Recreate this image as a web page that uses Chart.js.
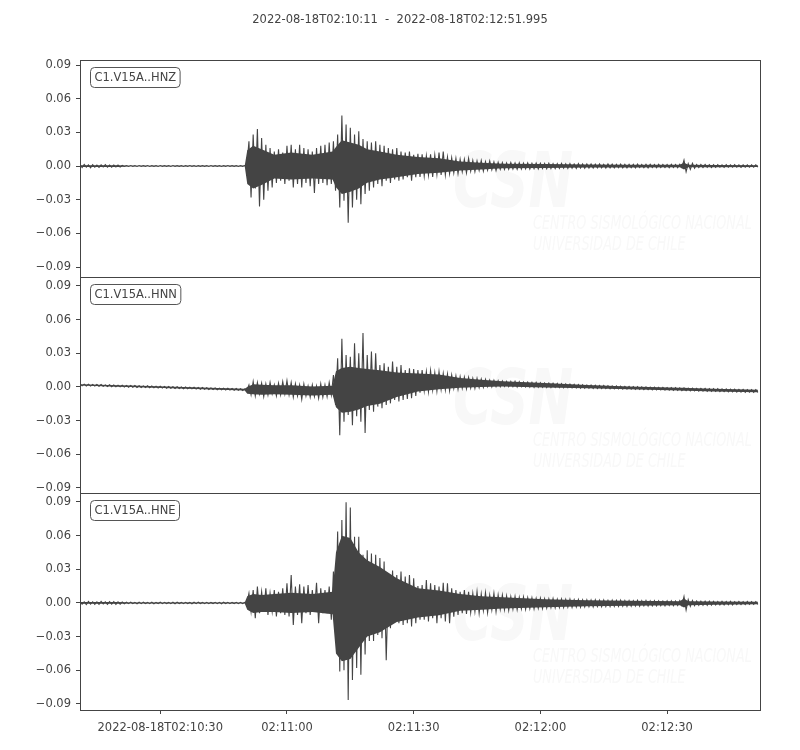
<!DOCTYPE html>
<html>
<head>
<meta charset="utf-8">
<script src="https://cdn.jsdelivr.net/npm/chart.js@4.4.1/dist/chart.umd.min.js"></script>
<style>
  html, body { margin: 0; padding: 0; background: #fff; }
  #wrap { position: relative; width: 800px; height: 750px; }
</style>
</head>
<body>
<div id="wrap"><canvas id="seis" width="800" height="750"></canvas></div>
<script>
// start of the record: 2022-08-18T02:10:11, length 160.995 s
const startLabel = '2022-08-18T02:10:11';
const endLabel = '2022-08-18T02:12:51.995';
const duration = 160.995;
const channels = ['C1.V15A..HNZ', 'C1.V15A..HNN', 'C1.V15A..HNE'];
const xTickSeconds = [19, 49, 79, 109, 139];
const yTicks = [-0.09, -0.06, -0.03, 0, 0.03, 0.06, 0.09];

// peak swings, one value per second (t = 0..160)
const hnzUpper = [
  0.0012, 0.0015, 0.0010, 0.0013, 0.0009, 0.0011, 0.0012, 0.0008, 0.0010, 0.0009,
  0.0005, 0.0004, 0.0004, 0.0003, 0.0004, 0.0003, 0.0004, 0.0003, 0.0003, 0.0004,
  0.0003, 0.0003, 0.0004, 0.0003, 0.0003, 0.0003, 0.0004, 0.0003, 0.0003, 0.0003,
  0.0003, 0.0004, 0.0003, 0.0003, 0.0003, 0.0004, 0.0003, 0.0003, 0.0003, 0.0004,
  0.022, 0.028, 0.033, 0.025, 0.019, 0.016, 0.013, 0.015, 0.012, 0.018,
  0.019, 0.015, 0.019, 0.016, 0.015, 0.013, 0.016, 0.018, 0.019, 0.021,
  0.022, 0.028, 0.045, 0.037, 0.034, 0.028, 0.031, 0.024, 0.022, 0.021,
  0.022, 0.019, 0.018, 0.016, 0.015, 0.016, 0.013, 0.012, 0.013, 0.010,
  0.011, 0.0104, 0.009, 0.0104, 0.0098, 0.012, 0.013, 0.008, 0.0074, 0.0068,
  0.006, 0.006, 0.0068, 0.005, 0.0045, 0.005, 0.004, 0.0045, 0.0036, 0.0033,
  0.0030, 0.0028, 0.0031, 0.0027, 0.0029, 0.0026, 0.0028, 0.0025, 0.0027, 0.0024,
  0.0023, 0.0025, 0.0022, 0.0021, 0.0023, 0.0020, 0.0022, 0.0019, 0.0021, 0.0018,
  0.0019, 0.0018, 0.0017, 0.0019, 0.0016, 0.0018, 0.0017, 0.0016, 0.0018, 0.0015,
  0.0016, 0.0015, 0.0017, 0.0014, 0.0015, 0.0016, 0.0014, 0.0015, 0.0013, 0.0014,
  0.0015, 0.0014, 0.0016, 0.0052, 0.0022, 0.0025, 0.0014, 0.0013, 0.0014, 0.0012,
  0.0013, 0.0012, 0.0011, 0.0012, 0.0011, 0.0012, 0.0010, 0.0011, 0.0010, 0.0011,
  0.0010
];
const hnzLower = [
  -0.0013, -0.0010, -0.0015, -0.0011, -0.0012, -0.0009, -0.0011, -0.0010, -0.0008, -0.0009,
  -0.0004, -0.0004, -0.0003, -0.0004, -0.0003, -0.0003, -0.0004, -0.0003, -0.0004, -0.0003,
  -0.0003, -0.0004, -0.0003, -0.0003, -0.0004, -0.0003, -0.0003, -0.0004, -0.0003, -0.0003,
  -0.0004, -0.0003, -0.0003, -0.0004, -0.0003, -0.0003, -0.0003, -0.0004, -0.0003, -0.0003,
  -0.028, -0.020, -0.036, -0.030, -0.022, -0.019, -0.015, -0.013, -0.016, -0.013,
  -0.019, -0.016, -0.019, -0.015, -0.018, -0.024, -0.016, -0.015, -0.017, -0.016,
  -0.022, -0.037, -0.031, -0.0505, -0.037, -0.030, -0.034, -0.025, -0.022, -0.019,
  -0.016, -0.018, -0.013, -0.015, -0.012, -0.013, -0.012, -0.010, -0.013, -0.010,
  -0.0098, -0.009, -0.008, -0.0098, -0.0074, -0.008, -0.008, -0.0068, -0.006, -0.0068,
  -0.005, -0.006, -0.0045, -0.005, -0.0039, -0.0045, -0.0036, -0.0033, -0.0039, -0.0030,
  -0.0030, -0.0028, -0.0026, -0.0029, -0.0027, -0.0025, -0.0027, -0.0024, -0.0026, -0.0023,
  -0.0024, -0.0022, -0.0023, -0.0021, -0.0020, -0.0022, -0.0019, -0.0021, -0.0018, -0.0019,
  -0.0018, -0.0019, -0.0017, -0.0016, -0.0018, -0.0016, -0.0017, -0.0015, -0.0016, -0.0017,
  -0.0015, -0.0016, -0.0014, -0.0015, -0.0016, -0.0014, -0.0015, -0.0013, -0.0014, -0.0015,
  -0.0014, -0.0015, -0.0013, -0.0050, -0.0030, -0.0020, -0.0014, -0.0013, -0.0012, -0.0013,
  -0.0012, -0.0011, -0.0012, -0.0011, -0.0010, -0.0011, -0.0012, -0.0010, -0.0011, -0.0010,
  -0.0010
];

const hnnUpper = [
  0.0026, 0.0025, 0.0025, 0.0023, 0.0022, 0.0022, 0.0019, 0.0019, 0.0017, 0.0016,
  0.0016, 0.0014, 0.0013, 0.0013, 0.0011, 0.0010, 0.0010, 0.0008, 0.0007, 0.0007,
  0.0005, 0.0004, 0.0002, 0.0002, 0.0000, 0.0000, -0.0002, -0.0002, -0.0004, -0.0005,
  -0.0006, -0.0008, -0.0008, -0.0010, -0.0011, -0.0011, -0.0013, -0.0014, -0.0015, -0.0017,
  0.0018, 0.0048, 0.0040, 0.0033, 0.0027, 0.0040, 0.0018, 0.0033, 0.0048, 0.0056,
  0.0039, 0.0027, 0.0018, 0.0027, 0.0009, 0.0018, 0.0009, 0.0027, 0.0018, 0.0040,
  0.0107, 0.0255, 0.043, 0.0285, 0.027, 0.039, 0.030, 0.048, 0.0285, 0.0315,
  0.030, 0.0196, 0.021, 0.018, 0.0226, 0.018, 0.0196, 0.015, 0.0166, 0.016,
  0.015, 0.015, 0.0137, 0.0146, 0.0128, 0.0137, 0.012, 0.0116, 0.0107, 0.0098,
  0.0092, 0.0086, 0.0086, 0.0077, 0.0077, 0.0071, 0.0068, 0.0062, 0.0059, 0.0056,
  0.0053, 0.0050, 0.0049, 0.0050, 0.0047, 0.0044, 0.0043, 0.0041, 0.0040, 0.0038,
  0.0036, 0.0035, 0.0033, 0.0031, 0.0030, 0.0028, 0.0026, 0.0024, 0.0022, 0.0020,
  0.0018, 0.0017, 0.0016, 0.0014, 0.0013, 0.0011, 0.0010, 0.0009, 0.0007, 0.0006,
  0.0005, 0.0003, 0.0002, 0.0001, 0.0000, -0.0001, -0.0002, -0.0003, -0.0004, -0.0005,
  -0.0006, -0.0007, -0.0008, -0.0009, -0.0010, -0.0011, -0.0012, -0.0013, -0.0013, -0.0014,
  -0.0015, -0.0016, -0.0017, -0.0018, -0.0019, -0.0020, -0.0021, -0.0022, -0.0023, -0.0024,
  -0.0024
];
const hnnLower = [
  0.0010, 0.0009, 0.0008, 0.0008, 0.0006, 0.0005, 0.0004, 0.0002, 0.0001, 0.0001,
  -0.0001, -0.0002, -0.0002, -0.0004, -0.0005, -0.0005, -0.0007, -0.0008, -0.0009, -0.0010,
  -0.0011, -0.0012, -0.0014, -0.0014, -0.0016, -0.0017, -0.0017, -0.0019, -0.0020, -0.0021,
  -0.0022, -0.0023, -0.0025, -0.0025, -0.0027, -0.0028, -0.0029, -0.0030, -0.0031, -0.0033,
  -0.0070, -0.0080, -0.0062, -0.0086, -0.0070, -0.0062, -0.0080, -0.0070, -0.0062, -0.0070,
  -0.0090, -0.0080, -0.0110, -0.0080, -0.0090, -0.0086, -0.0100, -0.0090, -0.0086, -0.0072,
  -0.016, -0.043, -0.031, -0.025, -0.034, -0.026, -0.031, -0.041, -0.0205, -0.022,
  -0.0175, -0.019, -0.016, -0.0146, -0.0116, -0.013, -0.0116, -0.0107, -0.010, -0.008,
  -0.0050, -0.0033, -0.0042, -0.0027, -0.0036, -0.0021, -0.0027, -0.0033, -0.0012, -0.0021,
  -0.0012, -0.0015, -0.0009, -0.0012, -0.0006, -0.0003, 0.0003, 0.0000, 0.0003, 0.0003,
  0.0006, 0.0003, 0.0003, 0.0000, 0.0003, 0.0000, -0.0001, -0.0003, -0.0002, -0.0003,
  -0.0004, -0.0005, -0.0003, -0.0006, -0.0007, -0.0006, -0.0008, -0.0009, -0.0010, -0.0011,
  -0.0012, -0.0013, -0.0013, -0.0014, -0.0015, -0.0016, -0.0016, -0.0017, -0.0018, -0.0019,
  -0.0020, -0.0021, -0.0022, -0.0023, -0.0024, -0.0025, -0.0026, -0.0027, -0.0028, -0.0029,
  -0.0030, -0.0031, -0.0032, -0.0033, -0.0034, -0.0035, -0.0036, -0.0037, -0.0038, -0.0039,
  -0.0040, -0.0041, -0.0042, -0.0043, -0.0044, -0.0045, -0.0046, -0.0047, -0.0047, -0.0048,
  -0.0048
];

const hneUpper = [
  0.0012, 0.0010, 0.0014, 0.0011, 0.0009, 0.0013, 0.0010, 0.0012, 0.0011, 0.0009,
  0.0008, 0.0006, 0.0007, 0.0005, 0.0006, 0.0007, 0.0005, 0.0006, 0.0005, 0.0007,
  0.0006, 0.0005, 0.0006, 0.0007, 0.0005, 0.0006, 0.0005, 0.0006, 0.0007, 0.0005,
  0.0006, 0.0005, 0.0006, 0.0005, 0.0007, 0.0006, 0.0005, 0.0006, 0.0005, 0.0006,
  0.0086, 0.0116, 0.0146, 0.010, 0.013, 0.0086, 0.0116, 0.010, 0.013, 0.0175,
  0.025, 0.0146, 0.0166, 0.0146, 0.016, 0.0116, 0.018, 0.013, 0.0116, 0.0146,
  0.028, 0.0636, 0.074, 0.0897, 0.085, 0.059, 0.059, 0.043, 0.047, 0.044,
  0.043, 0.040, 0.037, 0.0175, 0.029, 0.025, 0.028, 0.0235, 0.025, 0.022,
  0.015, 0.016, 0.0205, 0.0175, 0.016, 0.0146, 0.018, 0.0175, 0.013, 0.0116,
  0.010, 0.0116, 0.010, 0.0086, 0.010, 0.008, 0.0092, 0.007, 0.0086, 0.007,
  0.007, 0.0062, 0.0056, 0.0059, 0.005, 0.0053, 0.0047, 0.0045, 0.004, 0.0042,
  0.0038, 0.0036, 0.0039, 0.0033, 0.0035, 0.0031, 0.0033, 0.0029, 0.0031, 0.0028,
  0.0027, 0.0025, 0.0028, 0.0024, 0.0026, 0.0023, 0.0025, 0.0022, 0.0024, 0.0021,
  0.0022, 0.0020, 0.0023, 0.0019, 0.0021, 0.0018, 0.0020, 0.0019, 0.0017, 0.0019,
  0.0018, 0.0017, 0.0020, 0.0056, 0.0030, 0.0022, 0.0017, 0.0016, 0.0015, 0.0016,
  0.0014, 0.0013, 0.0015, 0.0013, 0.0014, 0.0012, 0.0013, 0.0012, 0.0013, 0.0012,
  0.0012
];
const hneLower = [
  -0.0011, -0.0014, -0.0010, -0.0012, -0.0013, -0.0009, -0.0012, -0.0010, -0.0013, -0.0011,
  -0.0007, -0.0006, -0.0005, -0.0007, -0.0006, -0.0005, -0.0006, -0.0007, -0.0005, -0.0006,
  -0.0005, -0.0006, -0.0007, -0.0005, -0.0006, -0.0005, -0.0007, -0.0006, -0.0005, -0.0006,
  -0.0006, -0.0005, -0.0006, -0.0007, -0.0005, -0.0006, -0.0005, -0.0006, -0.0006, -0.0005,
  -0.0077, -0.0137, -0.0092, -0.0077, -0.0107, -0.0077, -0.012, -0.0092, -0.0107, -0.012,
  -0.0196, -0.0107, -0.018, -0.0092, -0.0107, -0.0077, -0.018, -0.0092, -0.0092, -0.015,
  -0.0166, -0.061, -0.060, -0.0865, -0.0686, -0.058, -0.064, -0.046, -0.034, -0.034,
  -0.0285, -0.0315, -0.051, -0.0226, -0.0166, -0.018, -0.0196, -0.018, -0.021, -0.018,
  -0.015, -0.015, -0.0166, -0.0137, -0.018, -0.0137, -0.0166, -0.018, -0.0122, -0.0107,
  -0.0092, -0.0098, -0.0086, -0.0077, -0.0092, -0.0068, -0.0086, -0.0062, -0.0077, -0.0056,
  -0.006, -0.0065, -0.0056, -0.006, -0.0053, -0.0056, -0.005, -0.0053, -0.0048, -0.005,
  -0.0045, -0.0042, -0.0044, -0.004, -0.0041, -0.0038, -0.0039, -0.0036, -0.0037, -0.0034,
  -0.0033, -0.0035, -0.0032, -0.0034, -0.0031, -0.0032, -0.0030, -0.0031, -0.0029, -0.0030,
  -0.0028, -0.0027, -0.0029, -0.0026, -0.0027, -0.0025, -0.0026, -0.0024, -0.0025, -0.0023,
  -0.0024, -0.0022, -0.0023, -0.0062, -0.0030, -0.0024, -0.0021, -0.0020, -0.0021, -0.0019,
  -0.0018, -0.0018, -0.0017, -0.0016, -0.0017, -0.0015, -0.0014, -0.0015, -0.0013, -0.0012,
  -0.0012
];

// the dense (solid) part of each trace, at these times in seconds
const coreTimes = [0, 9, 12, 39, 39.6, 41, 43, 46, 50, 55, 59.8, 60.6, 62, 64, 66, 68, 71, 75, 80, 85, 90, 95, 100, 110, 120, 130, 142, 143, 144, 150, 160.5];
const hnzCoreUpper = [0.0008, 0.0008, 0.0002, 0.0002, 0.014, 0.018, 0.015, 0.010, 0.012, 0.010, 0.013, 0.017, 0.023, 0.021, 0.019, 0.015, 0.013, 0.010, 0.008, 0.007, 0.004, 0.003, 0.002, 0.0018, 0.0014, 0.0012, 0.0011, 0.003, 0.0011, 0.001, 0.0008];
const hnzCoreLower = [-0.0008, -0.0008, -0.0002, -0.0002, -0.016, -0.020, -0.017, -0.011, -0.012, -0.011, -0.012, -0.019, -0.025, -0.023, -0.020, -0.015, -0.012, -0.010, -0.007, -0.006, -0.004, -0.003, -0.002, -0.0018, -0.0014, -0.0012, -0.0011, -0.003, -0.0011, -0.001, -0.0008];
const hnnCoreUpper = [0.0024, 0.0015, 0.0012, -0.0016, 0.0000, 0.0025, 0.0020, 0.0015, 0.0015, 0.0005, 0.0010, 0.014, 0.017, 0.018, 0.017, 0.016, 0.015, 0.013, 0.012, 0.011, 0.008, 0.0065, 0.005, 0.0035, 0.0017, 0.0004, -0.0008, -0.0008, -0.0010, -0.0015, -0.0024];
const hnnCoreLower = [0.0012, 0.0003, 0.0000, -0.0032, -0.0060, -0.0065, -0.0070, -0.0065, -0.0070, -0.0075, -0.0070, -0.018, -0.023, -0.022, -0.020, -0.017, -0.015, -0.009, -0.004, -0.002, -0.0008, 0.0000, 0.0004, -0.0004, -0.0012, -0.0020, -0.0032, -0.0033, -0.0034, -0.0040, -0.0048];
const hneCoreUpper = [0.0008, 0.0008, 0.0004, 0.0004, 0.006, 0.008, 0.007, 0.008, 0.009, 0.008, 0.010, 0.045, 0.060, 0.058, 0.045, 0.038, 0.032, 0.022, 0.013, 0.011, 0.008, 0.006, 0.005, 0.0033, 0.0024, 0.0019, 0.0016, 0.004, 0.0016, 0.0013, 0.0011];
const hneCoreLower = [-0.0008, -0.0008, -0.0004, -0.0004, -0.006, -0.009, -0.008, -0.008, -0.009, -0.008, -0.010, -0.045, -0.052, -0.050, -0.040, -0.030, -0.026, -0.017, -0.013, -0.011, -0.007, -0.006, -0.005, -0.0038, -0.003, -0.0025, -0.002, -0.004, -0.002, -0.0016, -0.0011];

const ink = '#444444';
const fontFam = '"DejaVu Sans", sans-serif';

// zigzag: upper swing on the second, lower swing half a second later
function swings(upper, lower) {
  const pts = [];
  upper.forEach((v, i) => {
    pts.push({ x: i, y: v });
    pts.push({ x: i + 0.5, y: lower[i] });
  });
  return pts;
}

function core(values) {
  return values.map((v, i) => ({ x: coreTimes[i], y: v }));
}

function clock(sec) {
  const total = 2 * 3600 + 10 * 60 + 11 + sec;
  const h = Math.floor(total / 3600), m = Math.floor(total % 3600 / 60), s = Math.round(total % 60);
  const p = n => String(n).padStart(2, '0');
  return p(h) + ':' + p(m) + ':' + p(s);
}

function yAxis(min, max) {
  return {
    type: 'linear', position: 'left', stack: 'seis', stackWeight: 1,
    min: min, max: max,
    afterFit: s => { s.width = 80; },
    afterBuildTicks: s => { s.ticks = yTicks.map(v => ({ value: v })); },
    border: { display: false },
    grid: { drawOnChartArea: false, tickLength: 4, tickColor: ink, lineWidth: 1 },
    ticks: {
      color: ink, font: { family: fontFam, size: 11.5 }, padding: 5,
      callback: v => (v < 0 ? '\u2212' : '') + Math.abs(v).toFixed(2)
    }
  };
}

const panels = {
  id: 'panels',
  beforeDatasetsDraw(chart) {
    const ctx = chart.ctx;
    ctx.save();
    ctx.fillStyle = '#f8f8f8';
    ['yE', 'yN', 'yZ'].forEach(id => {
      const t = chart.scales[id].top - 60;
      ctx.save();
      ctx.translate(453, 207 + t);
      ctx.scale(0.7, 1);
      ctx.font = 'italic bold 76px ' + fontFam;
      ctx.fillText('CSN', 0, 0);
      ctx.restore();
      ctx.save();
      ctx.translate(533, 229 + t);
      ctx.scale(0.64, 1);
      ctx.font = 'italic 20px ' + fontFam;
      ctx.fillText('CENTRO SISMOLÓGICO NACIONAL', 0, 0);
      ctx.fillText('UNIVERSIDAD DE CHILE', 0, 21);
      ctx.restore();
    });
    ctx.restore();
  },
  afterDraw(chart) {
    const ctx = chart.ctx;
    const a = chart.chartArea;
    ctx.save();
    ctx.lineWidth = 1;
    ['yZ', 'yN', 'yE'].forEach((id, k) => {
      const s = chart.scales[id];
      const top = Math.round(s.top) + 0.5, bot = Math.round(s.bottom) + 0.5;
      ctx.strokeStyle = ink;
      ctx.strokeRect(Math.round(a.left) + 0.5, top, Math.round(a.right - a.left), bot - top);
      // channel label box
      ctx.font = '11.5px ' + fontFam;
      const w = ctx.measureText(channels[k]).width + 8;
      ctx.beginPath();
      ctx.roundRect(90.5, top + 7, w, 20, 4);
      ctx.fillStyle = '#fff';
      ctx.fill();
      ctx.strokeStyle = '#555';
      ctx.stroke();
      ctx.fillStyle = ink;
      ctx.textBaseline = 'middle';
      ctx.fillText(channels[k], 94.5, top + 17.5);
    });
    ctx.font = '11.5px ' + fontFam;
    ctx.fillStyle = ink;
    ctx.textAlign = 'center';
    ctx.textBaseline = 'middle';
    ctx.fillText(startLabel + '  -  ' + endLabel, 400, 20);
    ctx.restore();
  }
};

// each trace: a solid core band plus the swing line drawn over it
function trace(upper, lower, coreUp, coreLo, axis) {
  const common = { yAxisID: axis, borderColor: ink, backgroundColor: ink, pointRadius: 0, tension: 0 };
  return [
    Object.assign({ data: core(coreUp), fill: '+1', borderWidth: 0 }, common),
    Object.assign({ data: core(coreLo), fill: false, borderWidth: 0 }, common),
    Object.assign({ data: swings(upper, lower), fill: false, borderWidth: 1.1 }, common)
  ];
}

new Chart(document.getElementById('seis'), {
  type: 'line',
  data: {
    datasets: [].concat(
      trace(hnzUpper, hnzLower, hnzCoreUpper, hnzCoreLower, 'yZ'),
      trace(hnnUpper, hnnLower, hnnCoreUpper, hnnCoreLower, 'yN'),
      trace(hneUpper, hneLower, hneCoreUpper, hneCoreLower, 'yE')
    )
  },
  options: {
    responsive: false, animation: false, devicePixelRatio: 1,
    layout: { padding: { top: 60, right: 40, left: 0, bottom: 0 } },
    plugins: { legend: { display: false }, tooltip: { enabled: false } },
    scales: {
      x: {
        type: 'linear', min: 0, max: duration,
        afterFit: s => { s.height = 40; },
        afterBuildTicks: s => { s.ticks = xTickSeconds.map(v => ({ value: v })); },
        border: { display: false },
        grid: { drawOnChartArea: false, tickLength: 4, tickColor: ink },
        ticks: {
          color: ink, font: { family: fontFam, size: 11.5 }, padding: 7, maxRotation: 0,
          callback: v => v === xTickSeconds[0] ? '2022-08-18T' + clock(v) : clock(v)
        }
      },
      yE: yAxis(-0.0954, 0.0977),
      yN: yAxis(-0.0948, 0.0983),
      yZ: yAxis(-0.0986, 0.0945)
    }
  },
  plugins: [panels]
});
</script>
</body>
</html>
